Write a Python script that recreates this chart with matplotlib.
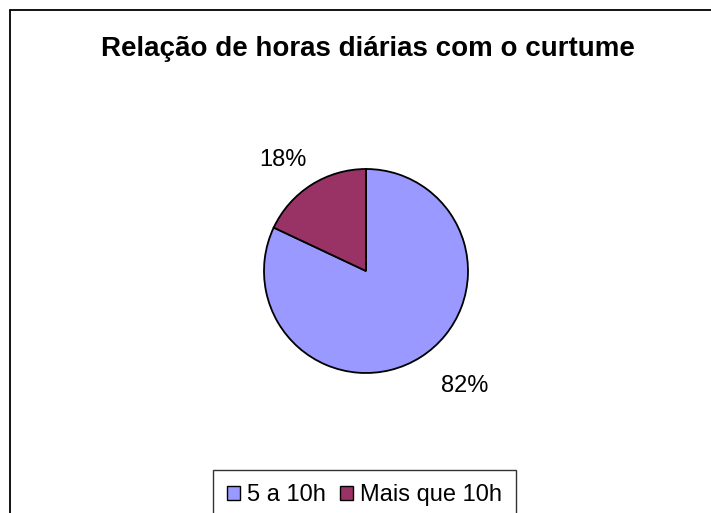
import numpy as np
import matplotlib.pyplot as plt
from matplotlib.patches import Rectangle

plt.rcParams["font.family"] = ["Liberation Sans", "DejaVu Sans"]

title = "Relação de horas diárias com o curtume"
categories = ["5 a 10h", "Mais que 10h"]
shares = [82, 18]
colors = ["#9999FF", "#993366"]

fig = plt.figure(figsize=(7.11, 5.13), dpi=100)

# pie box in pixels: x 264..468, y 169..373
ax = fig.add_axes([264 / 711, 1 - 373 / 513, 204 / 711, 204 / 513])
wedges, _ = ax.pie(shares, colors=colors, startangle=90, counterclock=False,
                   wedgeprops=dict(edgecolor="black", linewidth=1.3))
ax.set_xlim(-1, 1)
ax.set_ylim(-1, 1)
ax.set_aspect("equal")
ax.axis("off")

# percentage labels outside the slices (Excel-like placement)
label_shift = [8.3, 4.4]
label_dist = [1.49, 1.36]
for w, s, sh, d in zip(wedges, shares, label_shift, label_dist):
    ang = np.deg2rad((w.theta1 + w.theta2) / 2 + sh)
    ax.text(d * np.cos(ang), d * np.sin(ang), f"{s}%", ha="center", va="center",
            fontsize=17, clip_on=False)

fig.text(368 / 711, 1 - 56 / 513, title, ha="center", va="baseline",
         fontsize=20, fontweight="bold")

# outer chart border (cut by the image edges on the right and bottom)
fig.patches.append(Rectangle((10 / 711, -0.2), 1.2, 1.2 - 10 / 513,
                             transform=fig.transFigure, fill=False,
                             edgecolor="black", linewidth=1.3))

leg = fig.legend(wedges, categories, loc="upper center", ncol=2,
                 bbox_to_anchor=(364.5 / 711, 1 - 470 / 513), fontsize=17,
                 frameon=True, fancybox=False, edgecolor="black",
                 handlelength=0.55, handleheight=0.55, handletextpad=0.3,
                 columnspacing=0.6, borderpad=0.6, borderaxespad=0)
leg.get_frame().set_linewidth(1.0)
for h in leg.legend_handles:
    h.set_edgecolor("black")
    h.set_linewidth(1.0)

fig.savefig("out.png", dpi=100)
